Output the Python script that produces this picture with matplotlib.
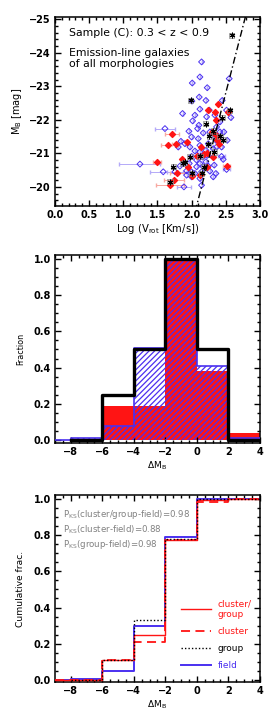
import matplotlib
matplotlib.use("Agg")
import matplotlib.pyplot as plt
from matplotlib.ticker import MultipleLocator
from matplotlib.lines import Line2D
import numpy as np

# ---- panel 1: Tully-Fisher data (log Vrot, M_B) ----
field_logv = [2.146, 2.122, 2.551, 2.010, 2.229, 2.112, 2.210, 2.005, 2.122, 2.259,
              2.449, 2.512, 1.868, 2.049, 2.220, 2.341, 2.015, 2.107, 2.088, 2.415,
              2.576, 1.610, 2.366, 2.171, 1.961, 2.268, 2.293, 2.000, 2.098, 2.415,
              2.473, 1.844, 1.902, 2.122, 2.244, 2.356, 2.522, 1.805, 1.976, 2.049,
              2.122, 2.210, 2.317, 2.366, 2.439, 2.161, 2.229, 2.000, 2.073, 2.317,
              2.439, 2.463, 1.893, 1.829, 1.966, 2.122, 2.210, 2.073, 2.171, 2.244,
              2.332, 1.585, 1.756, 1.927, 2.000, 2.049, 2.146, 2.268, 2.356, 1.927,
              2.000, 2.122, 2.317, 2.512, 1.888, 2.146, 1.244]
field_mb = [-23.73, -23.28, -23.23, -23.10, -22.96, -22.68, -22.58, -22.56, -22.32, -22.29,
            -22.58, -22.29, -22.19, -22.14, -22.09, -22.14, -21.97, -21.84, -21.74, -21.94,
            -22.07, -21.74, -21.79, -21.61, -21.66, -21.64, -21.54, -21.49, -21.44, -21.64,
            -21.64, -21.36, -21.29, -21.24, -21.29, -21.39, -21.39, -21.19, -21.19, -21.07,
            -21.04, -21.09, -21.14, -21.19, -21.19, -20.89, -20.94, -20.91, -20.80, -20.89,
            -20.91, -20.82, -20.73, -20.62, -20.70, -20.70, -20.75, -20.60, -20.60, -20.62,
            -20.65, -20.45, -20.45, -20.48, -20.45, -20.40, -20.45, -20.47, -20.40, -20.35,
            -20.30, -20.25, -20.30, -20.52, -20.00, -20.05, -20.68]
field_err = [0, 0, 0, 0, 0, 0, 0, 0, 0, 0,
             0, 0, 0, 0, 0, 0, 0, 0, 0, 0,
             0, 0.15, 0, 0, 0, 0, 0, 0, 0, 0,
             0, 0, 0, 0, 0, 0, 0, 0, 0, 0,
             0, 0, 0, 0, 0, 0, 0, 0, 0, 0,
             0.05, 0, 0, 0.1, 0, 0, 0, 0, 0, 0,
             0, 0.2, 0.12, 0, 0, 0, 0, 0, 0, 0,
             0, 0, 0, 0.05, 0.1, 0, 0.3]

clgr_logv = [1.717, 1.659, 1.766, 1.927, 1.854, 1.488, 1.790, 1.746, 1.683, 1.951,
             2.000, 2.132, 2.180, 2.229, 2.317, 2.366, 2.220, 2.351, 2.405, 2.073,
             2.244, 2.341, 2.390, 2.356, 2.527, 2.293, 2.122, 2.512]
clgr_mb = [-21.59, -21.24, -21.27, -21.34, -20.84, -20.75, -20.40, -20.20, -20.05, -20.60,
           -20.32, -21.19, -20.97, -21.01, -20.89, -21.39, -20.60, -21.54, -21.29, -20.91,
           -22.29, -22.24, -22.47, -21.99, -22.24, -21.64, -20.35, -20.63]
clgr_err = [0.1, 0.1, 0.05, 0, 0, 0.06, 0.1, 0.15, 0.2, 0,
            0, 0, 0, 0, 0, 0, 0, 0, 0, 0,
            0, 0, 0, 0, 0, 0, 0, 0.05]

agn_logv = [2.585, 1.990, 2.205, 2.449, 2.317, 2.259, 2.415, 2.244, 2.463, 2.332,
            2.122, 1.976, 1.902, 1.868, 1.732, 2.180, 2.146, 2.000, 1.683, 2.561]
agn_mb = [-24.52, -22.58, -21.89, -22.07, -21.67, -21.52, -21.51, -21.27, -21.41, -21.04,
          -20.91, -20.90, -20.73, -20.70, -20.60, -20.60, -20.40, -20.40, -20.15, -22.29]

# local Tully-Fisher relation: M_B = tf_zero + tf_slope * (logV - 2.2)
tf_zero = -20.43
tf_slope = -7.9

# ---- panel 2: histograms of Delta M_B (IDL psym=10 style, bin centres) ----
bin_centers = [-9, -7, -5, -3, -1, 1, 3, 5]
field_frac = [0.0, 0.015, 0.08, 0.51, 1.0, 0.41, 0.015, 0.0]
clgr_frac = [0.0, 0.0, 0.19, 0.19, 1.0, 0.38, 0.04, 0.0]
group_frac = [np.nan, 0.0, 0.25, 0.5, 1.0, 0.5, 0.0, np.nan]

# ---- panel 3: cumulative fractions ----
field_cum = [0.0, 0.005, 0.05, 0.30, 0.79, 1.0, 1.0, 1.0]
clgr_cum = [0.0, 0.0, 0.11, 0.25, 0.77, 0.99, 1.0, 1.0]
cluster_cum = [0.0, 0.0, 0.11, 0.21, 0.77, 0.98, 1.0, 1.0]
group_cum = [np.nan, 0.0, 0.11, 0.33, 0.78, 1.0, 1.0, 1.0]

ks_labels = ["cluster/group-field", "cluster-field", "group-field"]
ks_values = [0.98, 0.88, 0.98]

RED = "#ff1414"
BLUE = "#4a30f0"
LBLUE = "#b4aaf8"
LRED = "#f8a8a0"

plt.rcParams["font.family"] = "DejaVu Sans"
plt.rcParams["font.size"] = 7
plt.rcParams["hatch.linewidth"] = 0.9
plt.rcParams["hatch.color"] = BLUE


def idl_axes(ax, xmaj, xmin, ymaj, ymin):
    ax.xaxis.set_major_locator(MultipleLocator(xmaj))
    ax.xaxis.set_minor_locator(MultipleLocator(xmin))
    ax.yaxis.set_major_locator(MultipleLocator(ymaj))
    ax.yaxis.set_minor_locator(MultipleLocator(ymin))
    ax.tick_params(which="both", direction="in", top=True, right=True, width=1.0,
                   labelsize=7, pad=3)
    ax.tick_params(which="major", length=4)
    ax.tick_params(which="minor", length=2)
    for s in ax.spines.values():
        s.set_linewidth(1.1)
    for lab in ax.get_xticklabels() + ax.get_yticklabels():
        lab.set_fontweight("bold")


fig = plt.figure(figsize=(2.75, 7.17), dpi=100)

# ---------------- panel 1 ----------------
ax1 = fig.add_axes([0.2, 0.7127, 0.745, 0.2636])
ax1.errorbar(field_logv, field_mb, xerr=field_err, fmt="none", ecolor=LBLUE,
             elinewidth=0.7, capsize=1.2, zorder=1)
ax1.errorbar(clgr_logv, clgr_mb, xerr=clgr_err, fmt="none", ecolor=LRED,
             elinewidth=0.7, capsize=1.2, zorder=1)
ax1.scatter(field_logv, field_mb, marker="D", s=9, facecolors="none",
            edgecolors=BLUE, linewidths=0.7, zorder=2)
ax1.scatter(clgr_logv, clgr_mb, marker="D", s=9, color=RED, zorder=3)
ax1.scatter(agn_logv, agn_mb, marker="s", s=14, facecolors="none",
            edgecolors="#888888", linewidths=0.5, zorder=4)
ax1.scatter(agn_logv, agn_mb, marker=(6, 2, 0), s=12, color="black",
            linewidths=0.8, zorder=5)
tf_x = np.array([1.9, 3.0])
ax1.plot(tf_x, tf_zero + tf_slope * (tf_x - 2.2), color="black", lw=1.0,
         linestyle=(0, (5, 2, 1, 2)), zorder=6)
ax1.set_xlim(0, 3.0)
ax1.set_ylim(-19.43, -25.07)
idl_axes(ax1, 0.5, 0.1, 1, 0.2)
ax1.set_xlabel(r"Log (V$_{\rm rot}$ [Km/s])", fontsize=7.2, labelpad=1)
ax1.set_ylabel(r"M$_{\rm B}$ [mag]", fontsize=7, labelpad=4)
ax1.text(0.07, 0.915, "Sample (C): 0.3 < z < 0.9", transform=ax1.transAxes,
         fontsize=7.8, va="center")
ax1.text(0.07, 0.78, "Emission-line galaxies\nof all morphologies",
         transform=ax1.transAxes, fontsize=7.8, va="center", linespacing=1.05)

# ---------------- panel 2 ----------------
ax2 = fig.add_axes([0.2, 0.3822, 0.745, 0.2622])
edges_left = np.array(bin_centers) - 1
ax2.bar(edges_left, clgr_frac, width=2, align="edge", color=RED,
        edgecolor="none", zorder=1)
ax2.bar(edges_left, field_frac, width=2, align="edge", facecolor="none",
        edgecolor=BLUE, hatch="//////", linewidth=0, zorder=2)
ax2.step(bin_centers, field_frac, where="mid", color=BLUE, lw=1.2, zorder=3)
ax2.step(bin_centers, group_frac, where="mid", color="black", lw=2.4, zorder=4)
ax2.set_xlim(-9, 4)
ax2.set_ylim(-0.015, 1.02)
idl_axes(ax2, 2, 0.5, 0.2, 0.05)
ax2.set_xlabel(r"$\Delta$M$_{\rm B}$", fontsize=6.5, labelpad=2)
ax2.set_ylabel("Fraction", fontsize=5.8, labelpad=6)

# ---------------- panel 3 ----------------
ax3 = fig.add_axes([0.2, 0.0488, 0.745, 0.2608])
ax3.step(bin_centers, field_cum, where="mid", color=BLUE, lw=1.4, zorder=2)
ax3.step(bin_centers, clgr_cum, where="mid", color=RED, lw=1.0, zorder=3)
ax3.step(bin_centers, cluster_cum, where="mid", color=RED, lw=1.3,
         linestyle=(0, (5, 3)), zorder=3)
ax3.step(bin_centers, group_cum, where="mid", color="black", lw=1.0,
         linestyle=(0, (1, 1.5)), zorder=4)
ax3.set_xlim(-9, 4)
ax3.set_ylim(-0.01, 1.02)
idl_axes(ax3, 2, 0.5, 0.2, 0.05)
ax3.set_xlabel(r"$\Delta$M$_{\rm B}$", fontsize=6.5, labelpad=2)
ax3.set_ylabel("Cumulative frac.", fontsize=6.6, labelpad=6)

ks_text = "\n".join(r"P$_{\rm KS}$(%s)=%.2f" % (lab, val)
                    for lab, val in zip(ks_labels, ks_values))
ax3.text(0.04, 0.93, ks_text, transform=ax3.transAxes, fontsize=6.2,
         color="#808080", va="top", linespacing=1.25)

handles = [Line2D([], [], color=RED, lw=1.0),
           Line2D([], [], color=RED, lw=1.3, linestyle=(0, (5, 3))),
           Line2D([], [], color="black", lw=1.0, linestyle=(0, (1, 1.5))),
           Line2D([], [], color=BLUE, lw=1.4)]
leg = ax3.legend(handles, ["cluster/\ngroup", "cluster", "group", "field"],
                 loc="lower right", bbox_to_anchor=(1.0, 0.02), frameon=False,
                 fontsize=6.5, handlelength=3.3, labelspacing=0.9,
                 labelcolor=[RED, RED, "black", BLUE])

fig.savefig("out.png", dpi=100)
